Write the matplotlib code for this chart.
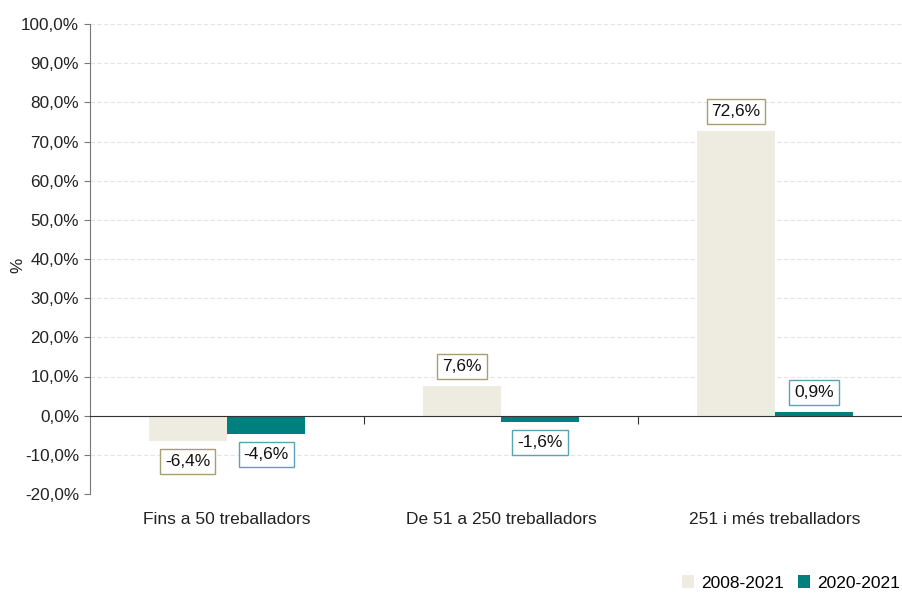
import matplotlib
matplotlib.use("Agg")
import matplotlib.pyplot as plt
import numpy as np

categories = ["Fins a 50 treballadors", "De 51 a 250 treballadors", "251 i més treballadors"]
series_names = ["2008-2021", "2020-2021"]
values_2008 = [-6.4, 7.6, 72.6]
values_2020 = [-4.6, -1.6, 0.9]
yticks = list(range(-20, 101, 10))

plt.rcParams['font.family'] = ['Liberation Sans', 'DejaVu Sans']

fig = plt.figure(figsize=(9.02, 5.94), dpi=100)
W, H = 902, 594
left_px, right_px, top_px, bot_px = 90, 902, 24, 494
ax = fig.add_axes([left_px / W, 1 - bot_px / H, (right_px - left_px) / W, (bot_px - top_px) / H])

cat_px = 274.0
xmax = -0.5 + (right_px - left_px) / cat_px
ax.set_xlim(-0.5, xmax)
ax.set_ylim(-20, 100)

c1 = "#eeebe0"
c2 = "#007f7f"
e1 = "#a89f70"
e2 = "#5aa3b5"
bw = 0.285
x = np.arange(len(categories))
ax.bar(x - bw / 2, values_2008, bw, color=c1, label=series_names[0], zorder=2)
ax.bar(x + bw / 2, values_2020, bw, color=c2, label=series_names[1], zorder=2)

def fmt(v):
    return f"{v:.1f}".replace(".", ",") + "%"

for xs, vals, ec in ((x - bw / 2, values_2008, e1), (x + bw / 2, values_2020, e2)):
    for xi, v in zip(xs, vals):
        off = 5.0 if v >= 0 else -5.3
        ax.text(xi, v + off, fmt(v), ha="center", va="center", fontsize=12.5, color="#111111",
                bbox=dict(boxstyle="square,pad=0.28", fc="white", ec=ec, lw=1.0), zorder=3)

ax.set_yticks(yticks)
ax.set_yticklabels([fmt(t) for t in yticks], fontsize=12.3, color="#222222")
ax.yaxis.grid(True, linestyle=(0, (4, 2)), color="#e4e4e4", lw=0.8, zorder=0)
ax.set_axisbelow(True)

ax.spines["bottom"].set_position(("data", 0))
ax.spines["bottom"].set_color("#333333")
ax.spines["bottom"].set_zorder(2.5)
ax.set_xticks([0.5, 1.5])
ax.set_xticklabels([])
ax.tick_params(axis="x", direction="out", length=6, color="#333333")
for i, c in enumerate(categories):
    ax.text(i, -26.5, c, ha="center", va="center", fontsize=12.5, color="#222222")

ax.tick_params(axis="y", length=4, color="#777777", pad=4)
for s in ("top", "right"):
    ax.spines[s].set_visible(False)
ax.spines["left"].set_color("#777777")

fig.text(18 / W, 1 - 265 / H, "%", rotation=90, ha="center", va="center", fontsize=12.3, color="#222222")

leg = fig.legend(loc="center right", bbox_to_anchor=(900 / W, 1 - 583 / H), ncol=2, frameon=False,
                 fontsize=12.5, handlelength=0.7, handleheight=0.7, handletextpad=0.4, columnspacing=0.8,
                 borderpad=0, borderaxespad=0)

fig.savefig("out.png", dpi=100)
